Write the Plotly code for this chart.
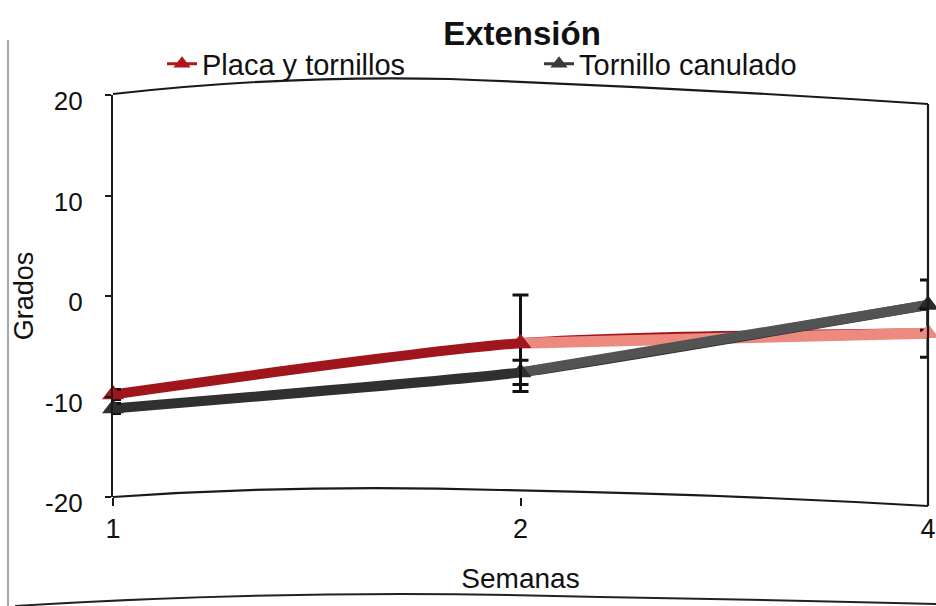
import plotly.graph_objects as go

# Weeks after surgery (evenly spaced categories)
semanas = ["1", "2", "4"]

# Mean extension (degrees) and error-bar half widths
placa = [-9.8, -4.7, -3.7]
placa_err = [0.5, 4.8, 2.4]
tornillo = [-11.2, -7.6, -0.9]
tornillo_err = [0.5, 1.2, 2.5]

serie_placa = "Placa y tornillos"
serie_tornillo = "Tornillo canulado"

y_ticks = [-20, -10, 0, 10, 20]
y_labels = ["-20", "-10", "0", "10", "20"]

W, H = 936, 606
L, R, T, B = 113, 8, 95, 109
FONT = "Liberation Sans, Arial, sans-serif"

red_dark = "#a1161c"
red_light = "#ec8a80"
gray_dark = "#303030"
gray_light = "#535353"
err_col = "#111111"

fig = go.Figure()

# Lines (first part dark, later part lighter)
fig.add_trace(go.Scatter(x=semanas, y=placa, mode="lines", showlegend=False,
                         line=dict(color=red_dark, width=10, shape="spline", smoothing=0.7),
                         hoverinfo="skip"))
fig.add_trace(go.Scatter(x=semanas[1:], y=placa[1:], mode="lines", showlegend=False,
                         line=dict(color=red_light, width=11), hoverinfo="skip"))
fig.add_trace(go.Scatter(x=semanas, y=tornillo, mode="lines", showlegend=False,
                         line=dict(color=gray_dark, width=10, shape="spline", smoothing=0.4),
                         hoverinfo="skip"))
fig.add_trace(go.Scatter(x=semanas[1:], y=tornillo[1:], mode="lines", showlegend=False,
                         line=dict(color=gray_light, width=10), hoverinfo="skip"))

# Markers with error bars
fig.add_trace(go.Scatter(x=semanas, y=tornillo, mode="markers", showlegend=False,
                         marker=dict(symbol="triangle-up", size=19,
                                     color=[gray_dark, gray_dark, "#2a2a2a"]),
                         error_y=dict(type="data", array=tornillo_err, color=err_col,
                                      thickness=3, width=8),
                         cliponaxis=False, name=serie_tornillo))
fig.add_trace(go.Scatter(x=semanas, y=placa, mode="markers", showlegend=False,
                         marker=dict(symbol="triangle-up", size=19,
                                     color=[red_dark, red_dark, red_light]),
                         error_y=dict(type="data", array=placa_err, color=err_col,
                                      thickness=3, width=8),
                         cliponaxis=False, name=serie_placa))

# Legend entries
fig.add_trace(go.Scatter(x=[None], y=[None], mode="lines+markers", name=serie_placa,
                         line=dict(color="#b3141b", width=3),
                         marker=dict(symbol="triangle-up", size=15, color="#b3141b")))
fig.add_trace(go.Scatter(x=[None], y=[None], mode="lines+markers", name=serie_tornillo,
                         line=dict(color="#3a3a3a", width=3),
                         marker=dict(symbol="triangle-up", size=15, color="#3a3a3a")))


def px(x):
    return (x - L) / (W - L - R)


def py(y):
    return (H - B - y) / (H - T - B)


def path(points):
    (x0, y0), rest = points[0], points[1:]
    d = f"M {px(x0):.4f} {py(y0):.4f}"
    for i in range(0, len(rest), 2):
        (cx, cy), (ex, ey) = rest[i], rest[i + 1]
        d += f" Q {px(cx):.4f} {py(cy):.4f} {px(ex):.4f} {py(ey):.4f}"
    return d


frame = dict(color="#1a1a1a", width=2.2)
outer = dict(color="#8a8a8a", width=1.5)
shapes = [
    # top border of the plot box
    dict(type="path", xref="paper", yref="paper", line=frame,
         path=path([(113, 94), (281, 75), (450, 79), (689, 88), (928, 104)])),
    # bottom border
    dict(type="path", xref="paper", yref="paper", line=frame,
         path=path([(113, 497), (300, 484), (500, 490), (720, 494), (928, 506)])),
    # right border
    dict(type="line", xref="paper", yref="paper", line=frame,
         x0=px(928), x1=px(928), y0=py(104), y1=py(506)),
    # outer chart-area edges
    dict(type="line", xref="paper", yref="paper", line=outer,
         x0=px(8), x1=px(8), y0=py(40), y1=py(606)),
    dict(type="path", xref="paper", yref="paper", line=dict(color="#222222", width=2),
         path=path([(15, 606), (300, 588), (600, 597), (780, 600), (936, 604)])),
]

fig.update_layout(
    width=W, height=H,
    margin=dict(l=L, r=R, t=T, b=B, autoexpand=False),
    paper_bgcolor="white", plot_bgcolor="white",
    font=dict(family=FONT, color="#111111"),
    title=dict(text="<b>Extensión</b>", font=dict(size=33, family=FONT, color="#111111"),
               x=px(522), xref="paper", xanchor="center",
               y=1 - 33 / H, yref="container", yanchor="middle"),
    legend=dict(orientation="h", x=px(162), xanchor="left", y=1 - 64 / H,
                yref="container", yanchor="middle",
                font=dict(size=29, family=FONT, color="#111111"),
                entrywidthmode="pixels", entrywidth=332,
                bgcolor="rgba(0,0,0,0)"),
    xaxis=dict(type="category", range=[0, 2], showline=False, showgrid=False,
               zeroline=False, ticks="outside", ticklen=8, tickwidth=2,
               tickcolor="#1a1a1a", tickfont=dict(size=27), ticklabelstandoff=0,
               title=dict(text="Semanas", font=dict(size=28), standoff=24)),
    yaxis=dict(range=[-20, 20], tickvals=y_ticks, ticktext=y_labels, showline=True,
               linecolor="#1a1a1a", linewidth=2.2, showgrid=False, zeroline=False,
               ticks="outside", ticklen=6, tickwidth=2, tickcolor="#1a1a1a",
               tickfont=dict(size=26), ticklabelstandoff=17, ticklabelshift=6,
               title=dict(text="Grados", font=dict(size=27), standoff=4)),
    shapes=shapes,
)

fig.write_html("out.html")
